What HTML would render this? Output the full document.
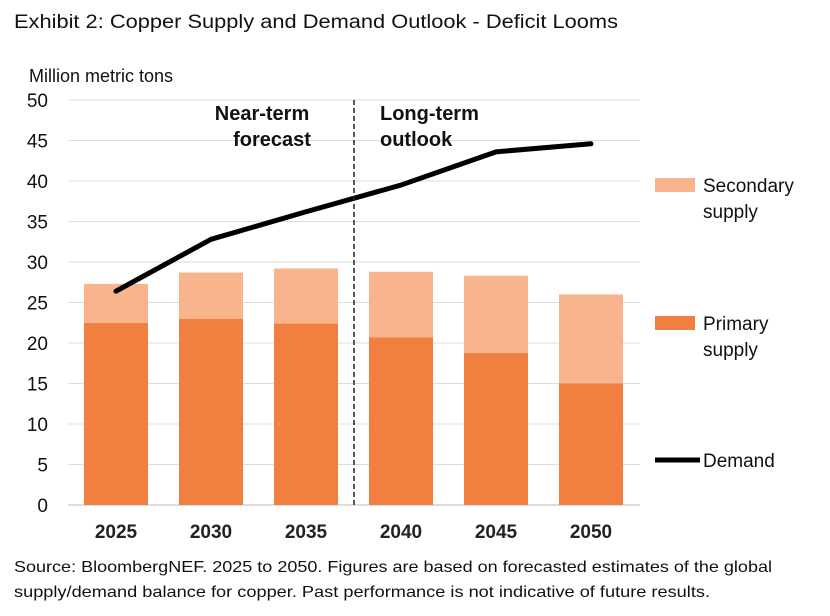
<!DOCTYPE html>
<html><head><meta charset="utf-8"><style>
body{margin:0;background:#fff;font-family:"Liberation Sans",Arial,sans-serif;}
.wrap{position:relative;width:830px;height:616px;overflow:hidden;}
</style></head><body>
<div class="wrap">
<svg id="chart" width="830" height="616" xmlns="http://www.w3.org/2000/svg">
<text x="14" y="28" font-size="19" fill="#111" textLength="604" lengthAdjust="spacingAndGlyphs">Exhibit 2: Copper Supply and Demand Outlook - Deficit Looms</text>
<text x="29" y="82" font-size="18" fill="#111">Million metric tons</text>
<g id="grid"></g><g id="bars"></g><g id="line"></g><g id="labels"></g>
<line x1="354" y1="100" x2="354" y2="505" stroke="#222" stroke-width="1.5" stroke-dasharray="5,3"/>
<text font-size="20" font-weight="bold" text-anchor="middle" fill="#111"><tspan x="262" y="120">Near-term</tspan><tspan x="272" y="146">forecast</tspan></text>
<text font-size="20" font-weight="bold" fill="#111"><tspan x="380" y="120">Long-term</tspan><tspan x="380" y="146">outlook</tspan></text>
<rect x="655" y="178" width="40" height="14" fill="#F8B48D"/>
<text font-size="19" fill="#111"><tspan x="703" y="192">Secondary</tspan><tspan x="703" y="218">supply</tspan></text>
<rect x="655" y="316" width="40" height="14" fill="#F07F40"/>
<text font-size="19" fill="#111"><tspan x="703" y="330">Primary</tspan><tspan x="703" y="356">supply</tspan></text>
<line x1="655" y1="460" x2="700" y2="460" stroke="#000" stroke-width="5"/>
<text x="703" y="467" font-size="19" fill="#111">Demand</text>
<text font-size="16" fill="#111"><tspan x="14" y="572" textLength="758" lengthAdjust="spacingAndGlyphs">Source: BloombergNEF. 2025 to 2050. Figures are based on forecasted estimates of the global</tspan><tspan x="14" y="597" textLength="696" lengthAdjust="spacingAndGlyphs">supply/demand balance for copper. Past performance is not indicative of future results.</tspan></text>
</svg>
</div>
<script>
const categories=["2025","2030","2035","2040","2045","2050"];
const primary=[22.5,23.0,22.4,20.7,18.8,15.0];
const secondary=[4.8,5.7,6.8,8.1,9.5,11.0];
const demand=[26.4,32.8,36.2,39.5,43.6,44.6];
const yTicks=[0,5,10,15,20,25,30,35,40,45,50];
const NS="http://www.w3.org/2000/svg";
const y=v=>505-v*8.1;
const x=i=>116+i*95;
const bw=64;
function mk(tag,attrs,parent){const e=document.createElementNS(NS,tag);for(const k in attrs)e.setAttribute(k,attrs[k]);document.getElementById(parent).appendChild(e);return e;}
yTicks.forEach(t=>{
  const g=mk('line',{x1:68,x2:640,y1:y(t),y2:y(t),stroke:t===0?'#bbb':'#ddd','stroke-width':1},'grid');
  
  
  const l=mk('text',{x:48,y:y(t)+7,'font-size':19,'text-anchor':'end',fill:'#111'},'labels');
  l.textContent=t;
  
  
});
categories.forEach((c,i)=>{
  const p=mk('rect',{x:x(i)-bw/2,y:y(primary[i]),width:bw,height:y(0)-y(primary[i]),fill:'#F07F40'},'bars');
  
  
  const s=mk('rect',{x:x(i)-bw/2,y:y(primary[i]+secondary[i]),width:bw,height:y(primary[i])-y(primary[i]+secondary[i]),fill:'#F8B48D'},'bars');
  
  
  const l=mk('text',{x:x(i),y:538,'font-size':19,'font-weight':'bold','text-anchor':'middle',fill:'#222'},'labels');
  l.textContent=c;
  
  
});
const pl=mk('polyline',{points:demand.map((d,i)=>x(i)+','+y(d)).join(' '),fill:'none',stroke:'#000','stroke-width':5,'stroke-linecap':'round','stroke-linejoin':'round'},'line');


</script>
</body></html>
